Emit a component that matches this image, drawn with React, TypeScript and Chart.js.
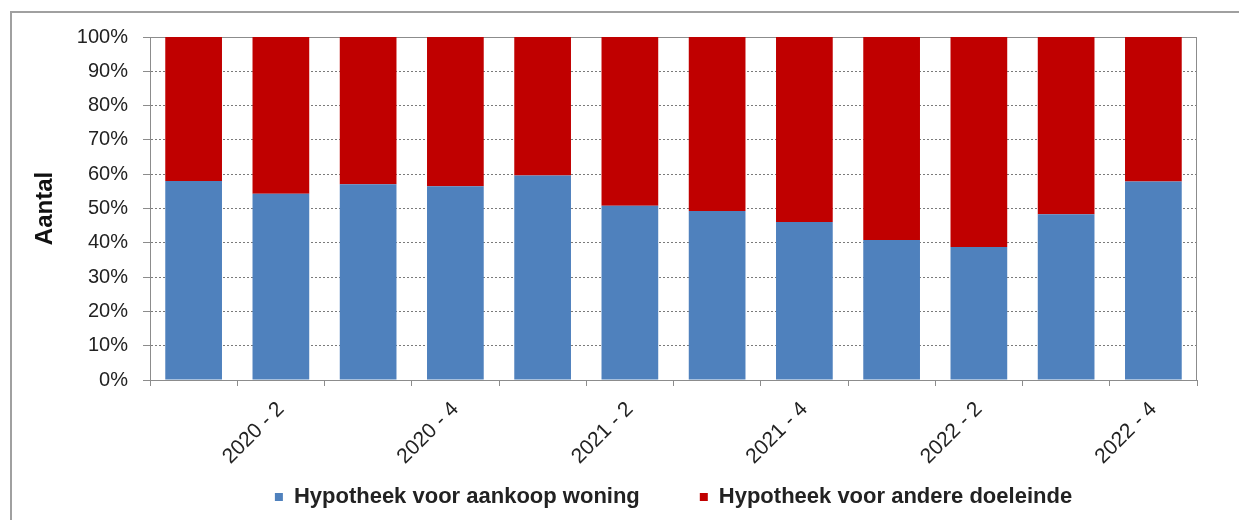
import React, { useEffect, useRef } from "react";
import { Chart, registerables } from "chart.js";

Chart.register(...registerables);

const categories = [
  "2020 - 1", "2020 - 2", "2020 - 3", "2020 - 4",
  "2021 - 1", "2021 - 2", "2021 - 3", "2021 - 4",
  "2022 - 1", "2022 - 2", "2022 - 3", "2022 - 4",
];
const aankoopWoning = [58, 54.3, 57.1, 56.5, 59.6, 50.8, 49.3, 46.1, 40.8, 38.8, 48.3, 57.9];
const andereDoeleinde = [42, 45.7, 42.9, 43.5, 40.4, 49.2, 50.7, 53.9, 59.2, 61.2, 51.7, 42.1];
const seriesNames = ["Hypotheek voor aankoop woning", "Hypotheek voor andere doeleinde"];
const yTitle = "Aantal";

const FONT = "'Liberation Sans', Arial, sans-serif";
const GRAY = "#8c8c8c";

const frameBorder = {
  id: "frameBorder",
  beforeDatasetsDraw(chart: any) {
    const { ctx, chartArea } = chart;
    ctx.save();
    ctx.strokeStyle = GRAY;
    ctx.lineWidth = 1;
    ctx.setLineDash([]);
    ctx.strokeRect(chartArea.left + 0.5, chartArea.top + 0.5, chartArea.right - chartArea.left - 1, chartArea.bottom - chartArea.top);
    ctx.restore();
  },
};

export default function App() {
  const ref = useRef<HTMLCanvasElement>(null);
  useEffect(() => {
    if (!ref.current) return;
    const chart = new Chart(ref.current, {
      type: "bar",
      data: {
        labels: categories,
        datasets: [
          { label: seriesNames[0], data: aankoopWoning, backgroundColor: "#4f81bd", barPercentage: 0.65, categoryPercentage: 1 },
          { label: seriesNames[1], data: andereDoeleinde, backgroundColor: "#c00000", barPercentage: 0.65, categoryPercentage: 1 },
        ],
      },
      options: {
        animation: false,
        responsive: false,
        layout: { padding: { left: 0, right: 42, top: 37, bottom: 2 } },
        plugins: {
          tooltip: { enabled: false },
          legend: {
            position: "bottom",
            fullSize: false,
            labels: {
              boxWidth: 8,
              boxHeight: 8,
              padding: 60,
              color: "#222",
              font: { family: FONT, size: 22, weight: "bold" },
            },
          },
        },
        scales: {
          x: {
            stacked: true,
            offset: true,
            grid: { display: true, drawOnChartArea: false, drawTicks: true, tickLength: 6, color: GRAY, offset: true },
            border: { display: true, color: GRAY },
            ticks: {
              autoSkip: false,
              maxRotation: 45,
              minRotation: 45,
              padding: 11,
              color: "#222",
              font: { family: FONT, size: 21 },
              callback: (_v: any, i: number) => (i % 2 === 1 ? categories[i] : ""),
            },
            afterFit: (s: any) => {
              s.height = 46;
              s._computeLabelArea = () => undefined;
            },
          },
          y: {
            stacked: true,
            min: 0,
            max: 100,
            grid: { color: "#7a7a7a", tickLength: 7, tickBorderDash: [], tickColor: GRAY },
            border: { display: true, color: GRAY, dash: [2, 2] },
            ticks: {
              stepSize: 10,
              padding: 15,
              color: "#222",
              font: { family: FONT, size: 20 },
              callback: (v: any) => v + "%",
            },
            title: {
              display: true,
              text: yTitle,
              color: "#111",
              font: { family: FONT, size: 24, weight: "bold" },
              padding: { top: 31, bottom: 0 },
            },
            afterFit: (s: any) => { s.width = 150; },
          },
        },
      },
      plugins: [frameBorder],
    });
    return () => chart.destroy();
  }, []);
  return (
    <div style={{ position: "fixed", left: 0, top: 0, width: 1239, height: 520, overflow: "hidden", background: "#fff" }}>
      <div style={{ position: "absolute", left: 10, top: 11, width: 1300, height: 600, borderLeft: "2px solid #a0a0a0", borderTop: "2px solid #a0a0a0" }} />
      <canvas ref={ref} width={1239} height={520} style={{ position: "absolute", left: 0, top: 0 }} />
    </div>
  );
}
